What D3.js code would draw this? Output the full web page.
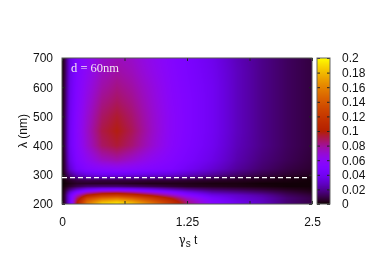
<!DOCTYPE html>
<html>
<head>
<meta charset="utf-8">
<script src="https://cdnjs.cloudflare.com/ajax/libs/d3/7.8.5/d3.min.js"></script>
<style>
  html, body { margin: 0; padding: 0; background: #fff; }
  #chart { position: relative; width: 374px; height: 262px; overflow: hidden; }
  canvas, svg { position: absolute; left: 0; top: 0; }
</style>
</head>
<body>
<div id="chart"></div>
<script>
let timeSteps = [0, 0.03, 0.08, 0.15, 0.25, 0.4, 0.55, 0.7, 0.9, 1.1, 1.25, 1.5, 1.75, 2, 2.25, 2.5];
let wavelengths = [700, 650, 600, 550, 500, 450, 400, 350, 320, 300, 290, 280, 270, 260, 250, 240, 230, 220, 210, 200];

// one row per wavelength
let intensity = [
  [0, .010, .035, .048, .058, .070, .074, .071, .062, .053, .047, .038, .026, .018, .012, .008],
  [0, .010, .036, .050, .060, .073, .078, .074, .064, .054, .048, .039, .027, .018, .012, .008],
  [0, .011, .037, .051, .063, .077, .083, .078, .067, .055, .049, .040, .027, .018, .012, .008],
  [0, .011, .038, .052, .066, .082, .088, .082, .069, .056, .050, .040, .027, .018, .012, .008],
  [0, .012, .039, .054, .069, .087, .094, .086, .071, .057, .050, .040, .027, .018, .012, .008],
  [0, .012, .040, .055, .071, .091, .098, .089, .072, .057, .050, .040, .027, .018, .012, .008],
  [0, .012, .040, .054, .069, .087, .093, .085, .070, .056, .049, .039, .026, .018, .012, .008],
  [0, .010, .036, .050, .060, .072, .076, .070, .060, .052, .046, .036, .024, .016, .011, .007],
  [0, .009, .030, .044, .052, .056, .058, .056, .052, .048, .041, .031, .021, .014, .009, .006],
  [0, .006, .018, .028, .034, .038, .038, .036, .034, .032, .028, .021, .014, .009, .006, .004],
  [0, .004, .012, .018, .022, .023, .022, .021, .020, .019, .017, .012, .008, .005, .003, .002],
  [0, .002, .005, .008, .009, .008, .008, .008, .007, .007, .006, .005, .004, .003, .002, .001],
  [0, .001, .003, .005, .005, .005, .005, .004, .003, .003, .003, .002, .002, .001, .001, .001],
  [0, .002, .006, .010, .014, .015, .015, .013, .010, .007, .005, .004, .003, .002, .001, .001],
  [0, .005, .016, .028, .039, .046, .047, .043, .035, .025, .019, .013, .010, .007, .004, .002],
  [0, .007, .030, .050, .070, .084, .087, .080, .066, .051, .038, .024, .019, .014, .008, .004],
  [0, .009, .040, .070, .100, .118, .122, .113, .095, .073, .055, .036, .029, .022, .012, .007],
  [0, .009, .042, .085, .128, .148, .155, .144, .122, .096, .071, .046, .033, .026, .015, .009],
  [0, .009, .042, .095, .145, .172, .180, .168, .140, .110, .081, .051, .036, .027, .015, .009],
  [0, .008, .040, .100, .155, .190, .197, .185, .155, .118, .086, .053, .038, .028, .015, .009]
];

let xTicks = [0, 0.625, 1.25, 1.875, 2.5];
let xLabels = ["0", "", "1.25", "", "2.5"];
let yTicks = [200, 300, 400, 500, 600, 700];
let barTicks = [0, 0.02, 0.04, 0.06, 0.08, 0.1, 0.12, 0.14, 0.16, 0.18, 0.2];
let cutWavelength = 290;

let width = 374;
let height = 262;
let plot = {left: 62, right: 312, top: 58, bottom: 204};
let bar = {left: 317, right: 330};
let font = "'Liberation Sans', Arial, sans-serif";

let xScale = d3.scaleLinear().domain([0, 2.5]).range([plot.left, plot.right]);
let yScale = d3.scaleLinear().domain([200, 700]).range([plot.bottom, plot.top]);
let barScale = d3.scaleLinear().domain([0, 0.2]).range([plot.bottom, plot.top]);

// gnuplot's default pm3d palette (rgbformulae 7,5,15)
let palette = (x) => {
  let r = Math.sqrt(x);
  let g = x * x * x;
  let b = Math.max(0, Math.sin(2 * Math.PI * x));
  return d3.rgb(r * 255, g * 255, b * 255);
};
let colorScale = d3.scaleSequential(palette).domain([0, 0.2]).clamp(true);

// fractional positions in the grid, for the smooth shading of the map
let colIndex = d3.scaleLinear().domain(timeSteps).range(d3.range(timeSteps.length)).clamp(true);
let rowIndex = d3.scaleLinear().domain(wavelengths).range(d3.range(wavelengths.length)).clamp(true);

let valueAt = (t, wl) => {
  let c = colIndex(t), r = rowIndex(wl);
  let c0 = Math.min(Math.floor(c), timeSteps.length - 2), r0 = Math.min(Math.floor(r), wavelengths.length - 2);
  let fc = c - c0, fr = r - r0;
  let top = intensity[r0][c0] * (1 - fc) + intensity[r0][c0 + 1] * fc;
  let low = intensity[r0 + 1][c0] * (1 - fc) + intensity[r0 + 1][c0 + 1] * fc;
  return top * (1 - fr) + low * fr;
};

let canvas = d3.select("#chart").append("canvas")
  .attr("width", width)
  .attr("height", height);
let ctx = canvas.node().getContext("2d");

for (let px = plot.left; px < plot.right; px++) {
  for (let py = plot.top; py < plot.bottom; py++) {
    ctx.fillStyle = colorScale(valueAt(xScale.invert(px + 0.5), yScale.invert(py + 0.5)));
    ctx.fillRect(px, py, 1, 1);
  }
}

for (let py = plot.top; py < plot.bottom; py++) {
  ctx.fillStyle = colorScale(barScale.invert(py + 0.5));
  ctx.fillRect(bar.left, py, bar.right - bar.left, 1);
}

let svg = d3.select("#chart").append("svg")
  .attr("width", width)
  .attr("height", height);

let styleAxis = (g) => {
  g.style("font-family", font).style("font-size", "12px");
  g.select(".domain").remove();
  g.selectAll("line").attr("stroke", "#222");
  g.selectAll("text").attr("fill", "#111");
};

let xLabel = (d) => xLabels[xTicks.indexOf(d)];

svg.append("g")
  .attr("transform", "translate(0," + plot.bottom + ")")
  .call(d3.axisBottom(xScale).tickValues(xTicks).tickFormat(xLabel).tickSizeInner(-3).tickPadding(13))
  .call(styleAxis);

svg.append("g")
  .attr("transform", "translate(0," + plot.top + ")")
  .call(d3.axisTop(xScale).tickValues(xTicks).tickFormat("").tickSizeInner(-3))
  .call(styleAxis);

svg.append("g")
  .attr("transform", "translate(" + plot.left + ",0)")
  .call(d3.axisLeft(yScale).tickValues(yTicks).tickSizeInner(-3).tickPadding(9))
  .call(styleAxis);

svg.append("g")
  .attr("transform", "translate(" + plot.right + ",0)")
  .call(d3.axisRight(yScale).tickValues(yTicks).tickFormat("").tickSizeInner(-3))
  .call(styleAxis);

svg.append("g")
  .attr("transform", "translate(" + bar.right + ",0)")
  .call(d3.axisRight(barScale).tickValues(barTicks).tickFormat(d3.format("~g")).tickSizeInner(-3).tickPadding(12))
  .call(styleAxis);

svg.append("g")
  .attr("transform", "translate(" + bar.left + ",0)")
  .call(d3.axisLeft(barScale).tickValues(barTicks).tickFormat("").tickSizeInner(-3))
  .call(styleAxis);

svg.append("rect")
  .attr("x", plot.left)
  .attr("y", plot.top)
  .attr("width", plot.right - plot.left)
  .attr("height", plot.bottom - plot.top)
  .attr("fill", "none")
  .attr("stroke", "#555");

svg.append("rect")
  .attr("x", bar.left)
  .attr("y", plot.top)
  .attr("width", bar.right - bar.left)
  .attr("height", plot.bottom - plot.top)
  .attr("fill", "none")
  .attr("stroke", "#666");

svg.append("line")
  .attr("x1", plot.left)
  .attr("x2", xScale(2.5) - 2)
  .attr("y1", yScale(cutWavelength))
  .attr("y2", yScale(cutWavelength))
  .attr("stroke", "white")
  .attr("stroke-width", 1.2)
  .attr("stroke-dasharray", "5,3");

svg.append("text")
  .attr("x", 71)
  .attr("y", 72)
  .attr("fill", "#f2e6f2")
  .style("font-family", "'Liberation Serif', serif")
  .style("font-size", "12.5px")
  .text("d = 60nm");

let xTitle = svg.append("text")
  .attr("x", 188)
  .attr("y", 244)
  .attr("text-anchor", "middle")
  .attr("fill", "#111")
  .style("font-family", font)
  .style("font-size", "12px");
xTitle.append("tspan").style("font-family", "'DejaVu Serif', serif").text("γ");
xTitle.append("tspan").attr("dy", 3).style("font-size", "10px").text("s");
xTitle.append("tspan").attr("dy", -3).text(" t");

svg.append("text")
  .attr("transform", "translate(27,131)rotate(-90)")
  .attr("text-anchor", "middle")
  .attr("fill", "#111")
  .style("font-family", font)
  .style("font-size", "12px")
  .text("λ (nm)");
</script>
</body>
</html>
